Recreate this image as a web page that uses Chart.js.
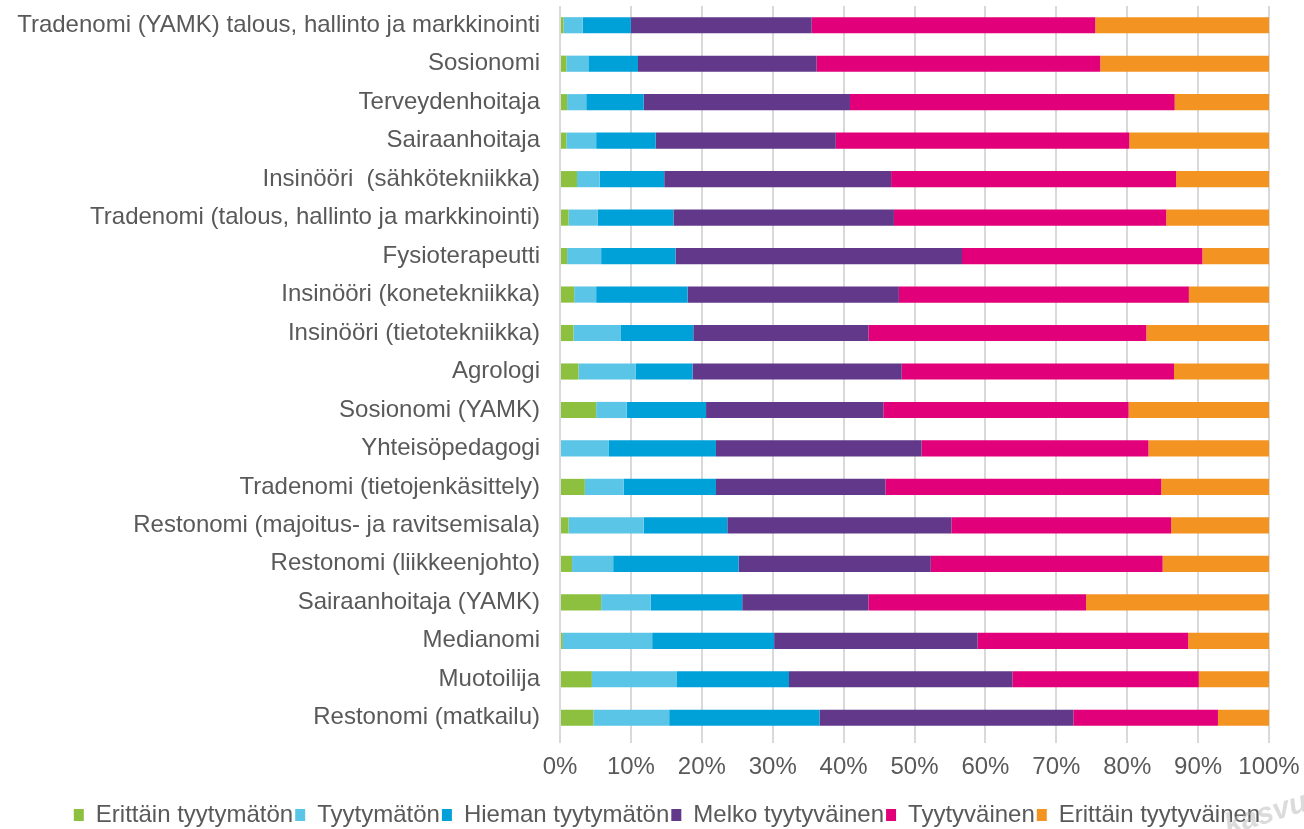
<!DOCTYPE html>
<html>
<head>
<meta charset="utf-8">
<script src="https://cdn.jsdelivr.net/npm/chart.js@4/dist/chart.umd.min.js"></script>
<style>
html,body{margin:0;padding:0;background:#fff;}
#wrap{width:1304px;height:829px;position:relative;}
</style>
</head>
<body>
<div id="wrap"><canvas id="c" width="1304" height="829"></canvas></div>
<script>
const categories = [
  "Tradenomi (YAMK) talous, hallinto ja markkinointi",
  "Sosionomi",
  "Terveydenhoitaja",
  "Sairaanhoitaja",
  "Insinööri  (sähkötekniikka)",
  "Tradenomi (talous, hallinto ja markkinointi)",
  "Fysioterapeutti",
  "Insinööri (konetekniikka)",
  "Insinööri (tietotekniikka)",
  "Agrologi",
  "Sosionomi (YAMK)",
  "Yhteisöpedagogi",
  "Tradenomi (tietojenkäsittely)",
  "Restonomi (majoitus- ja ravitsemisala)",
  "Restonomi (liikkeenjohto)",
  "Sairaanhoitaja (YAMK)",
  "Medianomi",
  "Muotoilija",
  "Restonomi (matkailu)"
];
const seriesNames = ["Erittäin tyytymätön","Tyytymätön","Hieman tyytymätön","Melko tyytyväinen","Tyytyväinen","Erittäin tyytyväinen"];
const erittainTyytymaton = [0.5,0.9,1.0,0.9,2.4,1.2,1.0,2.0,1.9,2.6,5.1,0,3.5,1.2,1.7,5.8,0.4,4.5,4.7];
const tyytymaton        = [2.7,3.1,2.7,4.2,3.2,4.1,4.8,3.1,6.7,8.1,4.3,6.9,5.5,10.6,5.8,7.0,12.6,12.0,10.7];
const hiemanTyytymaton  = [6.8,7.0,8.1,8.4,9.1,10.7,10.5,12.9,10.2,8.0,11.2,15.1,13.0,11.8,17.7,12.9,17.2,15.8,21.2];
const melkoTyytyvainen  = [25.5,25.2,29.1,25.4,32.0,31.1,40.4,29.8,24.7,29.5,25.0,29.0,23.9,31.6,27.1,17.8,28.7,31.5,35.8];
const tyytyvainen       = [40.0,40.0,45.8,41.4,40.2,38.4,33.9,40.9,39.2,38.4,34.6,32.0,38.9,31.0,32.7,30.7,29.7,26.3,20.4];
const erittainTyytyvainen=[24.5,23.8,13.3,19.7,13.1,14.5,9.4,11.3,17.3,13.4,19.8,17.0,15.2,13.8,15.0,25.8,11.4,9.9,7.2];
const xTickLabels = ["0%","10%","20%","30%","40%","50%","60%","70%","80%","90%","100%"];

const colors = ["#8DC03F","#5BC5E8","#00A0D8","#62388B","#E2007A","#F39322"];
const seriesData = [erittainTyytymaton,tyytymaton,hiemanTyytymaton,melkoTyytyvainen,tyytyvainen,erittainTyytyvainen];

const FONT = "'Liberation Sans', Arial, sans-serif";
const TXT = "#595959";

const watermark = {
  id:'watermark',
  afterLayout(chart){
    if (chart.legend) { chart.legend.left += 15; chart.legend.right += 15; }
  },
  afterDraw(chart){
    const ctx = chart.ctx;
    ctx.save();
    ctx.translate(1212, 840);
    ctx.rotate(-0.3);
    ctx.font = "bold italic 30px " + FONT;
    ctx.fillStyle = "rgba(175,175,175,0.45)";
    ctx.textBaseline = "alphabetic";
    ctx.fillText("..kasvu", 0, 0);
    ctx.restore();
  }
};

new Chart(document.getElementById('c'), {
  type: 'bar',
  data: {
    labels: categories,
    datasets: seriesData.map((d,i)=>({
      label: seriesNames[i],
      data: d,
      backgroundColor: colors[i],
      borderWidth: 0,
      barPercentage: 0.42,
      categoryPercentage: 1.0
    }))
  },
  options: {
    indexAxis: 'y',
    responsive: false,
    animation: false,
    layout: { padding: { top: 6, left: 0, right: 0, bottom: -8 } },
    scales: {
      x: {
        stacked: true,
        min: 0, max: 100,
        ticks: {
          stepSize: 10,
          color: TXT,
          font: { family: FONT, size: 24 },
          padding: 10,
          callback: (v, i) => xTickLabels[i]
        },
        grid: { color: "#d9d9d9", lineWidth: 2, drawTicks: true, tickLength: 6 },
        border: { display: false },
        afterFit(scale){ scale.height = 64; scale.paddingLeft = 0; scale.paddingRight = 35; }
      },
      y: {
        stacked: true,
        ticks: {
          color: TXT,
          font: { family: FONT, size: 24 },
          padding: 20,
          autoSkip: false
        },
        grid: { display: false, drawTicks: false },
        border: { display: false },
        afterFit(scale){ scale.width = 560; scale.paddingTop = 0; scale.paddingBottom = 0; }
      }
    },
    plugins: {
      legend: {
        position: 'bottom',
        labels: {
          color: TXT,
          font: { family: FONT, size: 24 },
          boxWidth: 10,
          boxHeight: 12,
          padding: 2
        }
      },
      tooltip: { enabled: false }
    }
  },
  plugins: [watermark]
});
</script>
</body>
</html>
